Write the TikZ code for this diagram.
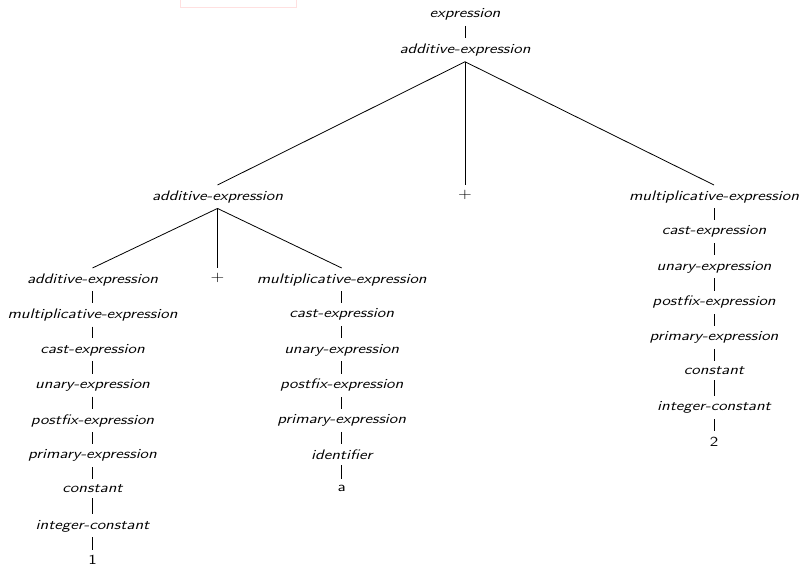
\documentclass[tikz,border=0pt]{standalone}
\usepackage{fontspec}
\usepackage{graphicx}
% tree labels are set wide
\newcommand\lbl[1]{\scalebox{1.25}[1]{#1}}
\begin{document}
\begin{tikzpicture}[x=1pt,y=-1pt,
  tn/.style={anchor=north,inner sep=5.4pt,
    font=\fontsize{13.8}{16}\selectfont\sffamily\itshape},
  leaf/.style={anchor=north,inner sep=5.4pt,
    font=\fontsize{13.8}{16}\selectfont\sffamily},
  br/.style={line width=0.8pt,black}]
\useasboundingbox (0,0) rectangle (802,564);
% faint frame remnant along the top edge
\draw[red!12,line width=0.8pt] (180,-2) -- (180,7) -- (296,7) -- (296,-2);

\def\s{35.2}
% top of the tree
\node[tn] (e)  at (465,3)    {\lbl{expression}};
\node[tn] (a0) at (465,38.3) {\lbl{additive-expression}};
% second level
\node[tn]   (a1) at (217.5,185) {\lbl{additive-expression}};
\node[leaf] (p1) at (465,185)   {\lbl{$+$}};
\node[tn]   (m1) at (714,185)   {\lbl{multiplicative-expression}};
% third level
\node[tn]   (a2) at (92.5,268)  {\lbl{additive-expression}};
\node[leaf] (p2) at (217.5,268) {\lbl{$+$}};
\node[tn]   (m2) at (341.7,268) {\lbl{multiplicative-expression}};

% left chain
\node[tn] (l1) at (92.5,268+1*\s) {\lbl{multiplicative-expression}};
\node[tn] (l2) at (92.5,268+2*\s) {\lbl{cast-expression}};
\node[tn] (l3) at (92.5,268+3*\s) {\lbl{unary-expression}};
\node[tn] (l4) at (92.5,268+4*\s) {\lbl{postfix-expression}};
\node[tn] (l5) at (92.5,268+5*\s) {\lbl{primary-expression}};
\node[tn] (l6) at (92.5,268+6*\s) {\lbl{constant}};
\node[tn] (l7) at (92.5,268+7*\s) {\lbl{integer-constant}};
\node[leaf] (l8) at (92.5,268+8*\s) {\lbl{1}};

% middle chain
\node[tn] (c1) at (341.7,268+1*\s) {\lbl{cast-expression}};
\node[tn] (c2) at (341.7,268+2*\s) {\lbl{unary-expression}};
\node[tn] (c3) at (341.7,268+3*\s) {\lbl{postfix-expression}};
\node[tn] (c4) at (341.7,268+4*\s) {\lbl{primary-expression}};
\node[tn] (c5) at (341.7,268+5*\s) {\lbl{identifier}};
\node[leaf] (c6) at (341.7,268+6*\s) {\lbl{a}};

% right chain
\node[tn] (r1) at (714,185+1*\s) {\lbl{cast-expression}};
\node[tn] (r2) at (714,185+2*\s) {\lbl{unary-expression}};
\node[tn] (r3) at (714,185+3*\s) {\lbl{postfix-expression}};
\node[tn] (r4) at (714,185+4*\s) {\lbl{primary-expression}};
\node[tn] (r5) at (714,185+5*\s) {\lbl{constant}};
\node[tn] (r6) at (714,185+6*\s) {\lbl{integer-constant}};
\node[leaf] (r7) at (714,185+7*\s) {\lbl{2}};

% branches
\foreach \u/\v in {e/a0, a0/a1, a0/p1, a0/m1, a1/a2, a1/p2, a1/m2,
  a2/l1, l1/l2, l2/l3, l3/l4, l4/l5, l5/l6, l6/l7, l7/l8,
  m2/c1, c1/c2, c2/c3, c3/c4, c4/c5, c5/c6,
  m1/r1, r1/r2, r2/r3, r3/r4, r4/r5, r5/r6, r6/r7}
  \draw[br] (\u.south) -- (\v.north);
\end{tikzpicture}
\end{document}
